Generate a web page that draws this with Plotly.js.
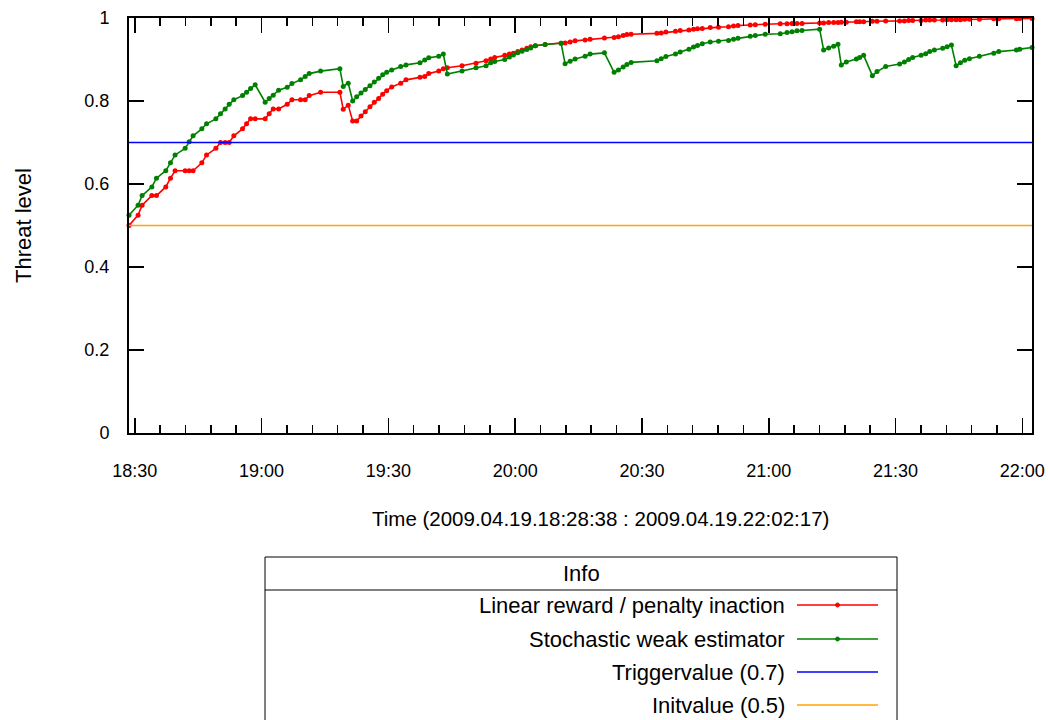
<!DOCTYPE html>
<html>
<head>
<meta charset="utf-8">
<script src="https://cdn.plot.ly/plotly-3.0.1.min.js"></script>
<style>
  html, body { margin: 0; padding: 0; background: #ffffff; }
  #chart { width: 1050px; height: 720px; }
</style>
</head>
<body>
<div id="chart"></div>
<script>
// Observation window (all on 2009-04-19)
const day = '2009-04-19 ';
const startTime = '18:28:38';
const endTime = '22:02:17';

// Sample instants shared by both estimators
const sampleTimes = [
  '18:28:38','18:30:47','18:31:44','18:34:02','18:35:08','18:37:20','18:38:27','18:39:32','18:41:55','18:42:52',
  '18:43:48','18:45:52','18:46:59','18:49:11','18:50:17','18:51:23','18:52:20','18:53:26','18:55:30','18:56:27',
  '18:57:24','18:58:29','19:00:51','19:01:48','19:02:45','19:04:02','19:06:04','19:07:11','19:09:14','19:10:19',
  '19:11:16','19:13:58','19:18:32','19:19:19','19:20:30','19:21:33','19:22:30','19:23:31','19:24:32','19:25:39',
  '19:26:40','19:27:42','19:28:39','19:29:36','19:30:47','19:32:55','19:34:10','19:37:29','19:38:36','19:39:33',
  '19:41:55','19:43:00','19:43:57','19:47:26','19:50:44','19:53:07','19:54:13','19:55:10','19:57:32','19:58:38',
  '19:59:35','20:00:37','20:01:38','20:02:45','20:03:42','20:04:47','20:07:05','20:10:52','20:11:49','20:13:00',
  '20:14:11','20:16:33','20:17:44','20:21:07','20:23:25','20:24:26','20:25:33','20:26:26','20:27:26','20:33:32',
  '20:34:33','20:35:40','20:37:56','20:39:03','20:41:07','20:42:12','20:43:08','20:44:16','20:46:09','20:48:07',
  '20:50:29','20:51:40','20:52:43','20:55:37','20:56:49','20:59:10','21:02:43','21:04:19','21:05:30','21:06:41',
  '21:07:52','21:12:02','21:12:59','21:14:10','21:15:21','21:16:23','21:17:10','21:18:21','21:20:43','21:21:30',
  '21:22:27','21:24:31','21:25:37','21:27:40','21:30:58','21:32:05','21:33:06','21:34:03','21:36:02','21:37:08',
  '21:38:05','21:39:11','21:41:09','21:42:12','21:43:13','21:44:20','21:45:21','21:46:22','21:47:29','21:49:50',
  '21:53:14','21:54:25','21:58:36','21:59:23','22:02:17'
];

// Linear reward / penalty inaction
const linearReward = [
  0.500,0.525,0.549,0.572,0.572,0.593,0.614,0.632,0.632,0.632,
  0.632,0.651,0.670,0.686,0.700,0.700,0.700,0.716,0.733,0.745,
  0.757,0.757,0.757,0.769,0.781,0.781,0.792,0.803,0.803,0.803,
  0.813,0.821,0.821,0.780,0.790,0.752,0.752,0.764,0.774,0.786,
  0.797,0.806,0.816,0.825,0.834,0.843,0.851,0.857,0.859,0.866,
  0.872,0.878,0.880,0.885,0.891,0.897,0.901,0.905,0.910,0.913,
  0.915,0.919,0.923,0.927,0.931,0.933,0.936,0.939,0.940,0.942,
  0.945,0.947,0.949,0.952,0.953,0.955,0.958,0.960,0.961,0.963,
  0.964,0.966,0.968,0.970,0.971,0.973,0.974,0.975,0.977,0.978,
  0.979,0.981,0.982,0.983,0.984,0.985,0.986,0.986,0.987,0.987,
  0.987,0.988,0.988,0.989,0.989,0.989,0.990,0.990,0.991,0.991,
  0.991,0.992,0.992,0.993,0.993,0.993,0.994,0.994,0.994,0.995,
  0.995,0.995,0.995,0.996,0.996,0.996,0.996,0.997,0.997,0.997,
  0.998,0.998,0.998,0.999,0.999
];

// Stochastic weak estimator
const weakEstimator = [
  0.525,0.549,0.572,0.593,0.614,0.632,0.651,0.670,0.686,0.702,
  0.716,0.733,0.745,0.757,0.769,0.781,0.792,0.803,0.813,0.821,
  0.830,0.839,0.797,0.806,0.814,0.826,0.833,0.842,0.851,0.859,
  0.866,0.872,0.878,0.835,0.843,0.800,0.810,0.819,0.828,0.837,
  0.846,0.855,0.863,0.869,0.875,0.883,0.887,0.892,0.899,0.904,
  0.908,0.913,0.865,0.872,0.880,0.885,0.892,0.895,0.900,0.906,
  0.911,0.916,0.920,0.924,0.928,0.933,0.936,0.939,0.890,0.896,
  0.901,0.908,0.913,0.916,0.869,0.875,0.882,0.888,0.893,0.897,
  0.902,0.907,0.913,0.918,0.925,0.930,0.934,0.938,0.942,0.944,
  0.946,0.949,0.951,0.956,0.958,0.961,0.962,0.965,0.967,0.969,
  0.970,0.973,0.923,0.928,0.932,0.937,0.887,0.894,0.901,0.905,
  0.910,0.861,0.871,0.883,0.889,0.894,0.900,0.905,0.910,0.914,
  0.919,0.923,0.927,0.931,0.935,0.885,0.892,0.898,0.902,0.908,
  0.915,0.919,0.923,0.925,0.929
];

// Constant reference levels
const triggerValue = 0.7;
const initValue = 0.5;

const seriesNames = [
  'Linear reward / penalty inaction',
  'Stochastic weak estimator',
  'Triggervalue (0.7)',
  'Initvalue (0.5)'
];
const seriesColors = ['#ff0000', '#008000', '#0000ff', '#ffa500'];
const withMarkers = [true, true, false, false];

const xTitle = 'Time (2009.04.19.18:28:38 : 2009.04.19.22:02:17)';
const yTitle = 'Threat level';
const legendTitle = 'Info';

const FONT = 'Liberation Sans, Arial, Helvetica, sans-serif';
const TICK_SIZE = 18;
const XTITLE_SIZE = 20.5;
const KEY_SIZE = 22;
const times = sampleTimes.map(t => day + t);
const span = [day + startTime, day + endTime];

const traces = [
  {
    x: times, y: linearReward, name: seriesNames[0], type: 'scatter', mode: 'lines+markers',
    line: { color: seriesColors[0], width: 1.6 }, marker: { color: seriesColors[0], size: 5 },
    cliponaxis: false, hoverinfo: 'x+y'
  },
  {
    x: times, y: weakEstimator, name: seriesNames[1], type: 'scatter', mode: 'lines+markers',
    line: { color: seriesColors[1], width: 1.6 }, marker: { color: seriesColors[1], size: 5 },
    cliponaxis: false, hoverinfo: 'x+y'
  },
  {
    x: span, y: [triggerValue, triggerValue], name: seriesNames[2], type: 'scatter', mode: 'lines',
    line: { color: seriesColors[2], width: 1.6 }, hoverinfo: 'y'
  },
  {
    x: span, y: [initValue, initValue], name: seriesNames[3], type: 'scatter', mode: 'lines',
    line: { color: seriesColors[3], width: 1.6 }, hoverinfo: 'y'
  }
];

// Pixel frame of the plotting area, used to place the key and the time label
const plotL = 129, plotR = 1032, plotT = 18, plotB = 433;
const px = v => (v - plotL) / (plotR - plotL);
const py = v => (plotB - v) / (plotB - plotT);

// Key box below the plot, gnuplot style: title row, then text followed by a line sample
const boxL = 265, boxR = 897, boxT = 557, boxB = 724, headB = 590;
const rowY = [605, 639, 672, 705];
const sampleL = 797, sampleR = 878, textR = 787;

const shapes = [
  { type: 'rect', xref: 'paper', yref: 'paper', x0: px(boxL), x1: px(boxR), y0: py(boxB), y1: py(boxT),
    line: { color: '#000', width: 1 }, fillcolor: 'rgba(0,0,0,0)' },
  { type: 'line', xref: 'paper', yref: 'paper', x0: px(boxL), x1: px(boxR), y0: py(headB), y1: py(headB),
    line: { color: '#000', width: 1 } }
];
const annotations = [
  { xref: 'paper', yref: 'paper', x: px((boxL + boxR) / 2), y: py((boxT + headB) / 2), text: legendTitle,
    showarrow: false, xanchor: 'center', yanchor: 'middle', font: { family: FONT, size: KEY_SIZE, color: '#000' } },
  { xref: 'paper', yref: 'paper', x: px(600), y: py(518), text: xTitle,
    showarrow: false, xanchor: 'center', yanchor: 'middle', font: { family: FONT, size: XTITLE_SIZE, color: '#000' } }
];
seriesNames.forEach((name, i) => {
  shapes.push({ type: 'line', xref: 'paper', yref: 'paper', x0: px(sampleL), x1: px(sampleR),
    y0: py(rowY[i]), y1: py(rowY[i]), line: { color: seriesColors[i], width: 1.6 } });
  if (withMarkers[i]) {
    const cx = (sampleL + sampleR) / 2;
    shapes.push({ type: 'circle', xref: 'paper', yref: 'paper',
      x0: px(cx - 2), x1: px(cx + 2), y0: py(rowY[i] + 2), y1: py(rowY[i] - 2),
      line: { color: seriesColors[i], width: 1 }, fillcolor: seriesColors[i] });
  }
  annotations.push({ xref: 'paper', yref: 'paper', x: px(textR), y: py(rowY[i]), text: name,
    showarrow: false, xanchor: 'right', yanchor: 'middle', font: { family: FONT, size: KEY_SIZE, color: '#000' } });
});

const axisCommon = {
  showline: true, linecolor: '#000', linewidth: 2, mirror: 'ticks',
  ticks: 'inside', ticklen: 15, tickwidth: 1.5, tickcolor: '#000',
  showgrid: false, zeroline: false, automargin: false,
  tickfont: { family: FONT, size: TICK_SIZE, color: '#000' }
};

const layout = {
  width: 1050, height: 720,
  paper_bgcolor: '#ffffff', plot_bgcolor: '#ffffff',
  margin: { l: plotL, r: 1050 - plotR, t: plotT, b: 720 - plotB },
  showlegend: false,
  font: { family: FONT, size: KEY_SIZE, color: '#000' },
  xaxis: Object.assign({}, axisCommon, {
    type: 'date', range: span,
    tick0: day + '18:30:00', dtick: 30 * 60 * 1000, tickformat: '%H:%M',
    minor: { dtick: 6 * 60 * 1000, ticks: 'inside', ticklen: 8, tickwidth: 1.5, tickcolor: '#000', showgrid: false },
    ticklabelstandoff: 20
  }),
  yaxis: Object.assign({}, axisCommon, {
    range: [0, 1], tick0: 0, dtick: 0.2,
    ticklabelstandoff: 14,
    title: { text: yTitle, font: { family: FONT, size: KEY_SIZE, color: '#000' }, standoff: 47 }
  }),
  shapes: shapes,
  annotations: annotations
};

Plotly.newPlot('chart', traces, layout, { displayModeBar: false, staticPlot: true });
</script>
</body>
</html>
